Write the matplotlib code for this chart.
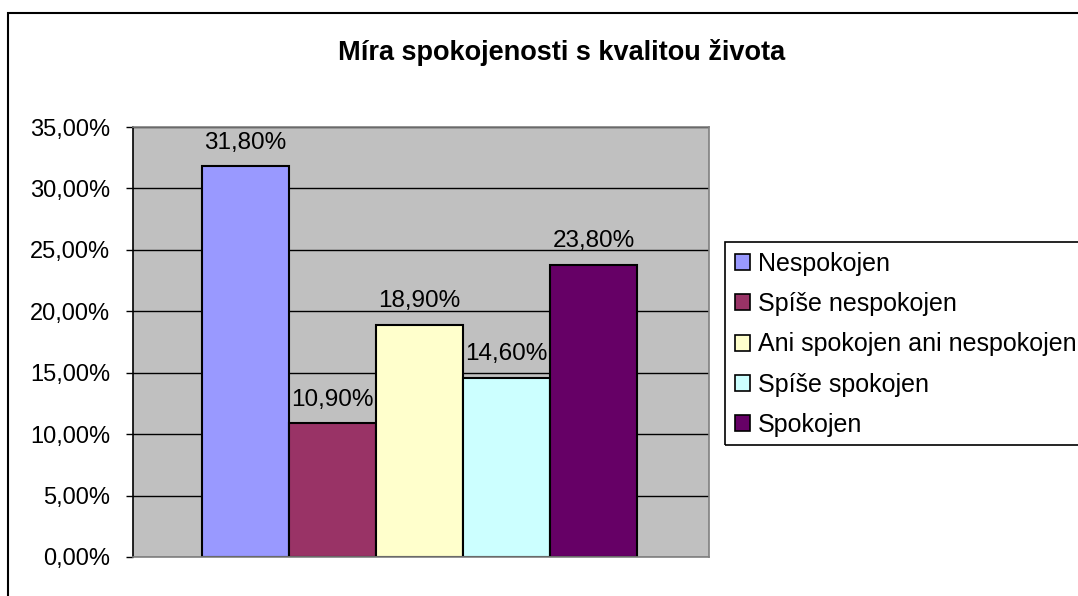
import matplotlib.pyplot as plt
import matplotlib.patches as mpatches
from matplotlib.ticker import FuncFormatter, MultipleLocator

plt.rcParams['font.family'] = ['Liberation Sans', 'DejaVu Sans']

categories = ['Nespokojen', 'Spíše nespokojen', 'Ani spokojen ani nespokojen',
              'Spíše spokojen', 'Spokojen']
values = [31.8, 10.9, 18.9, 14.6, 23.8]
colors = ['#9999FF', '#993366', '#FFFFCC', '#CCFFFF', '#660066']
title = 'Míra spokojenosti s kvalitou života'

W, H = 1078, 596
fig = plt.figure(figsize=(W / 100, H / 100), dpi=100)
ax = fig.add_axes([133 / W, 1 - 557 / H, (709 - 133) / W, (557 - 127) / H])
ax.set_facecolor('#C0C0C0')

# gridlines first, bars on top
ax.set_axisbelow(True)
ax.yaxis.grid(True, color='black', linewidth=1)
bars = ax.bar(range(len(values)), values, width=1.0, color=colors,
              edgecolor='black', linewidth=1.5, label=categories)
for b, v in zip(bars, values):
    ax.annotate(f'{v:.2f}%'.replace('.', ','), (b.get_x() + b.get_width() / 2, v),
                xytext=(0, 9), textcoords='offset points', ha='center', va='bottom',
                fontsize=17.5)

ax.set_ylim(0, 35)
ax.set_xlim(-1.293, 5.328)
ax.yaxis.set_major_locator(MultipleLocator(5))
ax.yaxis.set_major_formatter(FuncFormatter(lambda y, _: f'{y:.2f}%'.replace('.', ',')))
ax.set_xticks([])
ax.tick_params(axis='y', labelsize=17, length=5, width=1, pad=11.5)
for s in ax.spines.values():
    s.set_color('#808080')
    s.set_linewidth(1.2)
ax.spines['left'].set_color('black')

fig.text(562 / W, 1 - 52 / H, title, ha='center', va='center',
         fontsize=19.5, fontweight='bold')

# chart border (runs off the right and bottom edges)
fig.patches.append(mpatches.Rectangle((8 / W, -0.05), 1.1, 1 - 13 / H + 0.05,
                                      transform=fig.transFigure, fill=False,
                                      edgecolor='black', linewidth=1.5))

# legend box, also cut off on the right
fig.patches.append(mpatches.Rectangle((725 / W, 1 - 445 / H), 0.5, (445 - 242) / H,
                                      transform=fig.transFigure, fill=False,
                                      edgecolor='black', linewidth=1.2))
handles = [mpatches.Patch(facecolor=c, edgecolor='black', linewidth=1.2) for c in colors]
fig.legend(handles, categories, loc='upper left', bbox_to_anchor=(735 / W, 1 - 252 / H),
           frameon=False, fontsize=18, handlelength=0.6, handleheight=0.6,
           handletextpad=0.32, labelspacing=0.65, borderpad=0, borderaxespad=0)

fig.savefig('out.png', dpi=100)
